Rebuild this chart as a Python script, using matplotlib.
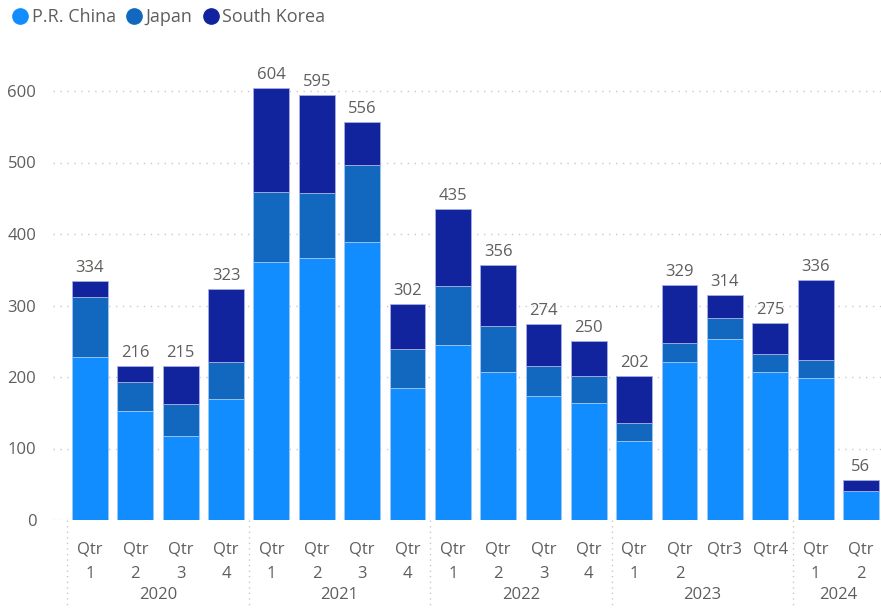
import matplotlib
matplotlib.use("Agg")
import matplotlib.pyplot as plt
from matplotlib.lines import Line2D

quarters = ["Qtr\n1", "Qtr\n2", "Qtr\n3", "Qtr\n4",
            "Qtr\n1", "Qtr\n2", "Qtr\n3", "Qtr\n4",
            "Qtr\n1", "Qtr\n2", "Qtr\n3", "Qtr\n4",
            "Qtr\n1", "Qtr\n2", "Qtr3", "Qtr4",
            "Qtr\n1", "Qtr\n2"]
years = ["2020", "2021", "2022", "2023", "2024"]
year_counts = [4, 4, 4, 4, 2]

china = [228, 152, 118, 169, 361, 366, 389, 184, 245, 207, 173, 163, 110, 221, 253, 207, 199, 40]
japan = [84, 41, 44, 52, 98, 91, 108, 55, 82, 64, 42, 39, 26, 26, 29, 25, 25, 1]
korea = [22, 23, 53, 102, 145, 138, 59, 63, 108, 85, 59, 48, 66, 82, 32, 43, 112, 15]
totals = [334, 216, 215, 323, 604, 595, 556, 302, 435, 356, 274, 250, 202, 329, 314, 275, 336, 56]

series_names = ["P.R. China", "Japan", "South Korea"]
colors = ["#118DFF", "#1267BE", "#12239E"]
text_color = "#605E5C"
font = "Open Sans"
fs = 12

W, H = 881, 609
fig = plt.figure(figsize=(W / 100, H / 100), dpi=100)

ax_left_px, ax_right_px = 53, 881
y0_px, ytop_px = 520, 55
ax = fig.add_axes([ax_left_px / W, (H - y0_px) / H, (ax_right_px - ax_left_px) / W, (y0_px - ytop_px) / H])
step_px = 45.35
first_center_px = 90
ax.set_xlim(-(first_center_px - ax_left_px) / step_px, (ax_right_px - first_center_px) / step_px)
px_per_unit = 0.715
ax.set_ylim(0, (y0_px - ytop_px) / px_per_unit)

x = list(range(len(china)))
bw = 0.79
bottom2 = [a + b for a, b in zip(china, japan)]
ax.bar(x, china, width=bw, color=colors[0], edgecolor="#9fc8f5", linewidth=0.6, zorder=3)
ax.bar(x, japan, bottom=china, width=bw, color=colors[1], edgecolor="#9fc8f5", linewidth=0.6, zorder=3)
ax.bar(x, korea, bottom=bottom2, width=bw, color=colors[2], edgecolor="#a8b0e0", linewidth=0.6, zorder=3)

for xi, t in zip(x, totals):
    ax.text(xi, t + 7, str(t), ha="center", va="bottom", fontsize=fs,
            color=text_color, family=font)

for v in range(0, 700, 100):
    ax.axhline(v, color="#C8C8C8", linestyle=(0, (1, 4)), linewidth=1, zorder=1)
ax.set_yticks(range(0, 700, 100))
ax.tick_params(axis="y", length=0, pad=12, labelsize=fs, labelcolor=text_color)
for lbl in ax.get_yticklabels():
    lbl.set_family(font)

ax.set_xticks(x)
ax.set_xticklabels([])
ax.tick_params(axis="x", length=0)
for s in ax.spines.values():
    s.set_visible(False)

def ydata(px):
    return -(px - y0_px) / px_per_unit

for xi, q in zip(x, quarters):
    if "\n" in q:
        top, bot = q.split("\n")
        ax.text(xi, ydata(550), top, ha="center", va="center",
                fontsize=fs, color=text_color, family=font, clip_on=False)
        ax.text(xi, ydata(574), bot, ha="center", va="center",
                fontsize=fs, color=text_color, family=font, clip_on=False)
    else:
        ax.text(xi, ydata(550), q, ha="center", va="center",
                fontsize=fs, color=text_color, family=font, clip_on=False)

start = 0
bounds = [-0.5]
for yr, c in zip(years, year_counts):
    center = start + (c - 1) / 2
    ax.text(center, ydata(595), yr, ha="center", va="center",
            fontsize=fs, color=text_color, family=font, clip_on=False)
    start += c
    bounds.append(start - 0.5)

for b in bounds[:-1]:
    ax.add_line(Line2D([b, b], [0, ydata(H)], color="#C8C8C8",
                       linestyle=(0, (1, 3)), linewidth=1, clip_on=False))

handles = [Line2D([0], [0], marker="o", linestyle="", markersize=11,
                  markerfacecolor=c, markeredgecolor=c) for c in colors]
leg = fig.legend(handles, series_names, loc="upper left", bbox_to_anchor=(-0.004, 1.007),
                 ncol=3, frameon=False, handletextpad=0.05, columnspacing=0.4,
                 prop={"family": font, "size": 13}, borderaxespad=0.3, handlelength=1.2)
for t in leg.get_texts():
    t.set_color(text_color)

fig.savefig("out.png", dpi=100)
